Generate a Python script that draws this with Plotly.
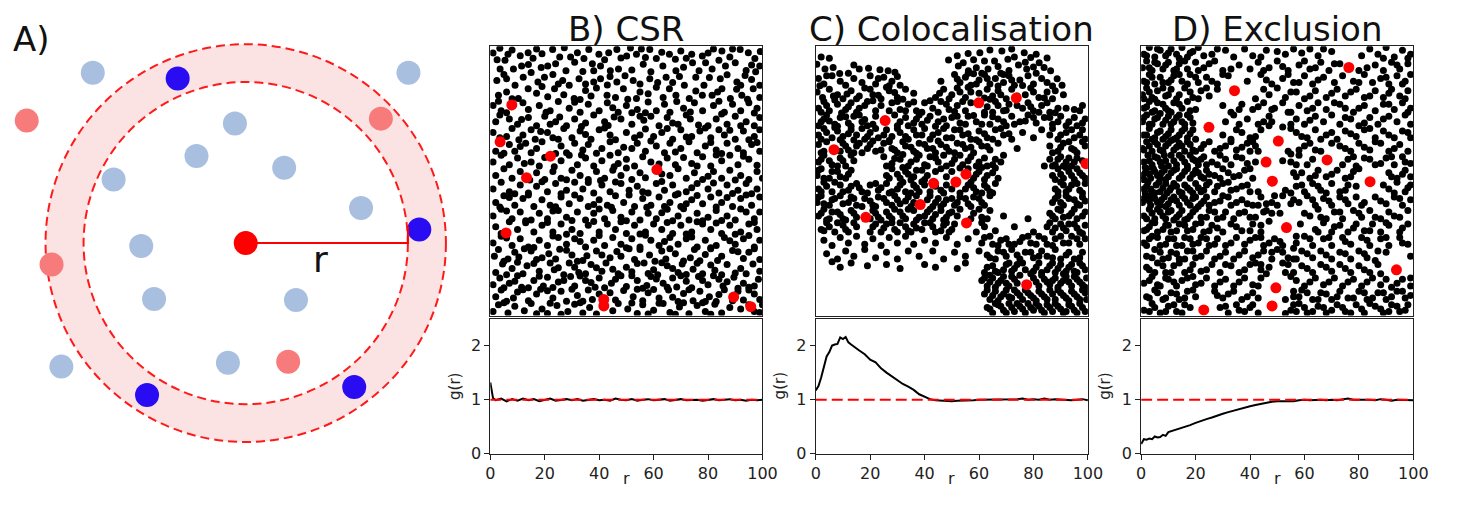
import plotly.graph_objects as go

# the page puts an 8px body margin round the plot, so the figure is drawn 16px smaller
OFF = 8
W, H = 1460 - 2 * OFF, 508 - 2 * OFF

# ---- panel A: schematic (units: outer ring radius = 10) ----
a_grey = [(-7.64, 8.57), (8.13, 8.57), (-0.54, 6.01), (-2.46, 4.38), (1.92, 3.79), (-6.60, 3.20),
          (5.76, 1.77), (-5.22, -0.15), (-4.58, -2.81), (2.51, -2.86), (-9.21, -6.21), (-0.89, -6.01)]
a_faint_red = [(-10.94, 6.16), (6.75, 6.26), (-9.70, -1.08), (2.12, -5.96)]
a_blue = [(-3.40, 8.28), (8.67, 0.69), (-4.93, -7.64), (5.42, -7.24)]
a_centre = (0.0, 0.0)
ring_outer = 10.0
ring_inner = 8.1
r_marker = [(0.0, 0.0), (8.1, 0.0), (8.1, 0.85)]

# ---- B) CSR ----
csr_black = [
    (1,97.5),(3.5,99.2),(5.4,94.8),(8,98.6),(11,96.5),(13.9,97.6),(15.7,95.5),(19,97.2),(22.9,98.8),(25.5,96),(27.2,99.4),(32,97.6),(34.4,95.4),(36.2,98.8),(39.9,97),(43.5,97.6),(46.5,98.8),(48,95.6),(50.1,96.4),(53.7,97),(55.5,99),(58.6,98.8),(61,95.4),(65.8,97),(68,95.2),(70,98.2),(74,97),(77.9,96.4),(82,99),(85.1,98.2),(88,96),(91.8,98.8),(94.8,97.6),(97.2,95.4),(99.2,98),
    (3.6,91.5),(8.5,91.5),(11.5,92.7),(14,93.2),(18.7,92.1),(21.1,92.7),(27.8,90.9),(31,94),(34,90.6),(38,90.9),(40.5,92.7),(44.1,90.9),(47.1,91.5),(52,91.2),(56.2,93.3),(59,90.5),(63.4,92.7),(68.2,90.9),(71,92.2),(74.3,93.9),(76.7,90.9),(79.1,93.9),(81.5,91.5),(86.4,92.7),(90,93.9),(94,91),(99,92.7),
    (2.4,87.3),(6,87.9),(9.1,85.5),(12.1,88.5),(17.5,86.7),(19.9,88.5),(26.6,87.3),(29,85.5),(32.6,87.9),(38,86.7),(40.5,87.9),(46.5,86.7),(52.5,87.3),(58.6,87.9),(64.6,88.5),(71.3,85.5),(75.5,88.5),(78.5,85.5),(84.5,87.9),(90.6,86.7),(93.6,89.1),(99,85.5),(23,89.5),(44,88.8),(55,86),(67,86.5),(87,89.4),(96,87.6),
    (3,81.8),(10.3,80.6),(13.9,84.2),(21.1,81.2),(23.6,84.2),(30.8,80.6),(35,83.6),(42.9,81.8),(48.9,84.2),(53.7,80.6),(55,83),(61,84.8),(65.8,84.2),(68.2,81.8),(73.1,80.6),(77.9,81.8),(81.5,81.8),(85.1,84.2),(88.2,80.6),(92.4,81.8),(96.6,84.2),(6,83),(17,82.5),(27,82),(39,84.5),(46,81),(58,82.4),(99,81),
    (1,78),(4,76),(12,79),(14,76.5),(18,78),(22,76),(25,79.5),(29,77),(33,75.5),(36,78.5),(40,76),(43,79),(47,75.5),(50,78),(54,76.5),(58,79.3),(61,76),(64,78.5),(66,75.5),(71,77),(75,79),(78,76),(82,78),(86,75.5),(89,78.5),(92,76),(95,79),(98,77),(6,75.3),(57,75.3),
    (2,72),(3.5,74.5),(10,71),(11.5,72.8),(14,73.5),(17,70.5),(20,74),(24,72),(25.5,73.7),(28,70.5),(31,73),(35,71.5),(38,74.5),(42,72),(43.3,70.6),(48,73),(52,71),(55,74),(56.4,72.5),(62,70.5),(65,73.5),(69,71),(72,74.5),(73.5,73),(80,70.5),(83,73),(87,71),(90,74),(94,72),(97,70.5),(99,73.5),
    (1,68),(6,66.5),(8,69.5),(12,67),(15,69),(16.5,65.5),(21,68),(23,66),(27,69.5),(30,66),(33,68.5),(37,65.5),(40,69),(44,67),(46,65.3),(50,68),(53,66),(57,69.3),(60,66.5),(63,68),(67,65.5),(70,69),(74,66.5),(77,68.5),(81,66),(84,69),(86,67),(90,65.5),(93,68.5),(97,66.5),(99,69),
    (2,61),(7,63.5),(9,61),(13,64),(17,62),(19,64.5),(26,63),(28,60.5),(31,64),(34,61.5),(36,63.5),(41,62),(44,64.5),(47,60.5),(49,62.5),(54,64),(57,61),(61,63),(64,60.5),(66,64),(70,62),(73,64.5),(76,60.5),(79,63),(83,61.5),(87,64),(91,62),(93,60.5),(96,63.5),(99,61),
    (1,57),(4,59.5),(7,56),(10,58.5),(15,57),(18,55.5),(26,57.5),(29,59.5),(32,56),(35,58.5),(38,55.5),(41,57.5),(44,59.5),(47,56.5),(50,58),(53,55.5),(56,59),(59,57),(65,58.5),(68,56),(71,58.7),(74,56.5),(78,59),(81,55.5),(85,57.5),(88,59.5),(91,56),(95,58),(98,55.8),
    (2,52),(5,54.5),(8,51),(17,53),(20,50.5),(23,53.5),(26,51),(30,54),(33,52),(36,50.5),(39,53.5),(42,51),(45,54),(48,52),(52,50.5),(55,53),(57,51.2),(66,52),(69,54.5),(72,51),(75,53),(78,50.5),(82,53.5),(85,51),(88,54),(92,52),(95,50.5),(98,53.5),
    (1,47),(4,49.5),(7,46),(11,48.5),(14,45.5),(17,48),(21,46),(24,49),(28,46.5),(31,49.5),(34,47),(38,45.5),(41,48.5),(44,46),(48,49),(51,46.5),(54,48),(58,45.5),(61,49),(64,46.5),(67,48.5),(72,46),(76,49),(80,47),(84,45.5),(87,48.5),(91,46.5),(94,49),(98,47),
    (2,42),(5,44.5),(9,41),(12,43.5),(16,40.5),(19,43),(22,41),(26,44),(29,41.5),(33,43.5),(36,40.5),(40,43),(43,41),(46,44.5),(49,42),(53,40.5),(56,43.5),(59,41),(62,44),(66,42),(70,40.5),(74,43),(78,41.5),(81,44),(85,42),(89,40.5),(92,43.5),(96,41),(99,44),
    (1,37),(4,39.5),(8,36),(11,38.5),(15,35.5),(18,38),(21,36),(25,39),(28,36.5),(32,38.5),(35,35.5),(38,38),(42,36),(45,39),(48,36.5),(52,38.5),(55,35.5),(58,38),(61,36),(65,39.5),(69,37),(73,35.5),(76,38),(80,36.5),(83,39),(87,37),(90,35.5),(94,38.5),(97,36),
    (2,33),(10,32),(13,34.5),(16,31),(19,33.5),(23,31),(26,34),(30,32),(33,30.5),(36,33.5),(40,31),(43,34),(46,32),(50,30.5),(53,33.5),(57,31),(60,34),(63,32),(67,30.5),(70,33.5),(74,31),(78,34),(81,32),(85,30.5),(88,33.5),(92,31),(95,34),(98,32),
    (1,27),(4,29.5),(8,26),(11,28.5),(14,25.5),(18,28),(21,26),(25,29),(28,26.5),(31,28.5),(35,25.5),(38,28),(42,26),(45,29),(48,26.5),(52,28.5),(55,25.5),(59,28),(62,26),(66,29),(69,26.5),(72,28.5),(76,25.5),(79,28),(83,26),(86,29),(90,26.5),(93,28.5),(97,25.5),(99,28),
    (1.5,22),(3,24.5),(6.5,21),(9,23.5),(10.5,21.8),(15,24),(17,20.8),(21.5,23),(24,21),(25.5,24.6),(30,22.5),(34,20.5),(35.5,22.2),(39,24),(44,21.5),(46.5,23.8),(48,22),(53,20.8),(55,24.5),(58.5,22.5),(63,24),(64.5,21),(68,23),(73.5,21.5),(75,24.5),(79,22.7),(83.5,20.5),(85,22),(89,24.2),(93,21.2),(95,23.5),(99,20.8),
    (2,16),(4.5,19.2),(8,17.5),(12,15.5),(13.5,18.5),(18,16.5),(22,19.5),(23.5,17),(27,15.2),(31,18),(32.5,16),(37,19),(41,16.5),(42.5,19.5),(47,15.5),(50,18),(52,16.3),(56.5,19.5),(60,17),(61.5,15.2),(65,18.5),(69,16),(70.5,19.2),(74.5,17.2),(78,15.5),(81,18.8),(82.5,16.8),(87,19),(90,15.8),(92,17.5),(96.5,19.2),(99,16.5),
    (1,11.5),(3.5,14),(7,12),(10,14.8),(11.5,10.5),(16,13),(19.5,11),(21,14.2),(25,12.5),(29.5,14.5),(31,11),(35,13),(38.5,10.5),(40,14),(44.5,12),(48,14.8),(50,10.8),(54,13),(57.5,11.2),(59,14.5),(63.5,12),(67,14),(68.5,10.6),(72,12.8),(76.5,14.5),(80,11.5),(84,13.5),(85.5,11),(89.5,14.2),(93,12),(95,10.5),(98.5,13.5),
    (2,7),(4,9.5),(8.5,6.5),(10,8.8),(14,5.5),(17,8),(18.5,9.8),(23,6.5),(26,9),(28,5.3),(32,7.5),(36,9.5),(37.5,6),(44,8.5),(46,5.8),(49,9.3),(52.5,7),(56,5.5),(58,8.5),(62,6.5),(65.5,9.5),(67,6.8),(71,8.2),(74.5,5.5),(77,9),(80.5,7),(83,5.2),(86,9.6),(91,9),(93,5.8),(97,8),(99,6),
    (1,1.5),(3,4),(6.5,1),(9,3.5),(12.5,1.8),(15,4.5),(19,2.5),(21,0.8),(24.5,3.8),(28.5,1.5),(31,4.2),(34,1),(36.5,3),(45,1.8),(47,4.5),(50.5,2.5),(54,0.8),(56,4),(60,2),(63.5,4.5),(66,1.2),(69.5,3.2),(73,0.7),(76,3.8),(79,1.5),(82.5,4.2),(85,1),(92,2.5),(99,1.2),(100,4),
    (2.5,95),(6.5,97),(17,99),(24,93.5),(29.5,96),(37.5,93.5),(42,95),(51.5,99.3),(57,95.8),(63,97.8),(72,95.5),(80,97.5),(84,94.8),(89,99),(96,93),
    (5,89.5),(15,90.2),(25,86),(35,86),(43,85.6),(49.5,89),(61.5,86.5),(69.5,88.8),(80.5,88.4),(92,85.5),(97.5,90.5),
    (8,80.5),(19,85),(33,80.2),(37,81.5),(50.5,80.3),(63.5,81),(75.5,83.4),(83.5,83),(90.5,84),(94.5,80.3),
    (3,79.6),(20.5,75.5),(31,79.2),(45,77.2),(52,75.3),(68.5,79.5),(73.5,75.6),(84,79.6),(97,75.2),
    (7,73),(22,71),(33.5,70.2),(45.5,73.7),(59,74),(67,71.5),(76.5,70.8),(85,74.8),(92,70.5),
    (3.5,66),(10.5,65.3),(18.5,68.3),(25,65.5),(35,67.2),(42,69.6),(55,67),(65,69.5),(72,66.3),(79,69.6),(88,68.8),(95,65.3),
    (5,60.3),(11,62.8),(15,60.5),(24,60.2),(39,60.3),(52,62),(59,64.8),(68,60.7),(81,64.3),(85,60.2),(98,64.3),
    (12.5,56.5),(20,58.7),(23.5,55.3),(33.5,59.6),(45.5,55.3),(62,56.3),(76,55.5),(83,59.6),(93,59.2),
    (11,53.5),(14.5,50.3),(28,50.4),(40.5,50.2),(50,54.8),(63,52.6),(80,51.7),(90,50.3),(100,51),
    (9,45.2),(19,49.7),(26,45.2),(36,49.4),(46,49.6),(56,46),(63,49.8),(69,45.2),(74,47.5),(82,49.2),(89,45.3),(96,45.2),
    (3.5,40.3),(7,43.8),(14,44.8),(24,40.4),(31,44.8),(38,41.2),(44.5,40.2),(51,44.8),(57.5,40.2),(64,40.5),(68,44.8),(72,41.5),(76,44.6),(83,40.3),(87,43.8),(94,44.8),
    (6,38.8),(13,35.2),(23,38.8),(30,35.3),(40,39.6),(50,35.2),(63,38.2),(67,35.2),(71,39.7),(78,35.2),(85,35.3),(92,39.6),(99,38.5),
    (4,30.5),(7,34.8),(21,34.6),(28,30.2),(38,34.9),(48,34.8),(55,30.3),(65,34.6),(72,30.3),(76,34.8),(83,34.4),(90,30.2),(97,34.6),
    (6,28.8),(16,25.3),(23,29.6),(33,27.5),(40,29.7),(50,25.2),(57,29.8),(64,27.5),(74,29.2),(81,25.2),(88,27.8),(95,29.7),
    (5,20.2),(12.5,24.8),(19,21.5),(28,24.3),(32,20.2),(41,22.5),(51,24.8),(60.5,20.2),(66,24.8),(71,20.3),(77,20.4),(81,24.8),(91,23.7),(97,24.8),
    (6,15.2),(10,19.8),(16,19.3),(25,17.8),(29,19.5),(35,15.5),(39,17.8),(45,17.2),(54,19.3),(58,15.6),(63,19.6),(67,17.5),(72,15.3),(76,19.4),(85,15.2),(94,15.5),
    (5,10.3),(9,12.8),(14,10.3),(18,14.6),(23,10.4),(27,13),(33,14.7),(37,12.3),(42,10.3),(46,13.5),(52,14.8),(56,10.2),(61,13.6),(65,10.5),(70,14.8),(74,10.3),(78,13),(82,14.8),(87,12.6),(91,10.2),(97,11),
    (6,5.3),(12,9.6),(21,9.2),(30,9.8),(34,5.3),(40,8),(54,9.8),(60,9.7),(69,5.2),(73,9.6),(79,5.2),(84,7.8),(89,5.5),(95,9.5),
    (5,4.8),(17,0.7),(22,4.6),(26,0.5),(33,4.8),(39,0.6),(52,4.7),(58,0.6),(62,4.6),(68,0.5),(71,4.8),(78,4.8),(81,0.5),(88,3),(95,4),(97,1.5),
]
csr_red = [(7.9, 78.2), (3.6, 64.5), (22.1, 59.2), (13.3, 51.2), (61.2, 54.2), (5.8, 30.7),
           (41.7, 6.0), (41.7, 3.6), (89.4, 6.9), (95.7, 3.3)]

# ---- C) Colocalisation ----
coloc_black = [
    (0.4,93.3),(3.4,91.5),(6.4,92.1),(8.8,89.9),(2,96),(5,95.5),(19.4,91.8),(23.6,91.3),(26.6,90.9),(29.1,90.3),(14,93),(48.8,94.9),(52.4,92.7),(54.2,93.9),(56.1,90.9),(60.3,97.6),(63.3,91.5),(65.7,94.5),(68.4,98.2),(70.6,95.2),(76.6,97.6),(79,95.8),(82.1,93.9),(83.9,92.1),(86.3,90.9),(58,95),(62,94.5),(67,92.5),(73,96),(74.5,93),(77.5,91.5),(81,97),(71,91),(59,92),
    (1,88),(3,86),(6,89),(9,87),(11,85.5),(14,88),(17,86.5),(20,89),(22,86),(25,88.5),(28,87),(31,85.5),(46,87),(51,89.5),(53,86.5),(55,88.5),(57,85.5),(60,87.5),(62,89.5),(64,86),(66,88),(69,86.5),(71,89),(73,85.5),(75,87.5),(78,89),(80,86),(83,88),(85,86.5),(88.7,87.9),(90.5,85.5),(67,85.2),(58,89.8),
    (0.5,83),(2.5,81),(5,84),(8,82),(10,80.5),(13,83.5),(16,81.5),(18,84.5),(21,82),(24,80.5),(27,83.5),(30,81),(33,84),(36,82.5),(44,81),(47,84),(50,82),(52,84.5),(55,81),(57,83),(63,84),(65,81.5),(67,83.5),(70,80.5),(72,84),(77,82),(79,84.5),(82,81),(85,83),(87,80.5),(91,82),(62,80.8),
    (1,77),(3,79.5),(5,76),(8,78.5),(11,76.5),(13,79),(16,77),(19,79.5),(22,76),(24,78),(28,79),(31,76.5),(34,78.5),(37,76),(40,79),(43,77),(46,79.5),(49,76.5),(52,78),(55,76),(57,79),(63,77.5),(65,75.5),(67,78),(69,76),(71,78.5),(76,77),(78,79),(80,76),(83,78),(86,75.5),(89,77),(95,76.5),(98,78),
    (2,72),(4,74.5),(7,71),(9,73.5),(12,71.5),(14,74),(17,72),(19,70.5),(22,74),(29,74.5),(31,72),(34,70.5),(37,73),(39,71),(42,74),(45,72),(48,70.5),(50,73.5),(53,71.5),(56,74),(59,72),(62,74.5),(64,71),(67,73),(70,70.5),(72,74),(75,72),(78,74.5),(81,71.5),(84,73.5),(87,71),(90,74),(93,72),(96,70.5),(99,73),
    (1,67),(3,69.5),(6,66),(8,68.5),(10,66.5),(13,69),(15,67),(18,65.5),(20,68),(23,66),(26,69),(28,66.5),(31,68),(34,65.5),(36,69),(39,67),(42,65.5),(45,68),(48,66),(51,69),(54,67),(57,65.5),(60,68.5),(63,66),(66,69),(69,67),(72,65.5),(76,68),(80,66),(83,69),(86,67),(89,65.5),(92,68),(95,66),(98,69),
    (1,63.5),(3,61),(10,64),(12,61.5),(15,63),(17,60.5),(20,63.5),(22,61),(25,64),(28,62),(30,60.5),(33,63),(36,61),(38,64),(41,62),(44,60.5),(46,63.5),(49,61),(52,64),(55,62),(58,60.5),(61,63),(64,61.5),(67,64),(74,62),(86,63),(89,61),(91,64),(94,62),(96,60.5),(99,63),
    (1,57),(3,59.5),(6,56),(9,58.5),(11,55.5),(14,57.5),(25,59),(28,56.5),(31,58),(34,55.5),(37,58),(40,56),(42,59),(45,57),(48,55.5),(51,58),(54,56),(57,59),(60,57),(63,55.5),(66,58),(69,59.5),(86,58),(88,56),(90,59),(92,57),(94,55.5),(96,58.5),(84,55.5),
    (0.5,52),(2,54.5),(5,51),(8,53.5),(11,51),(13,54),(26,52),(28,54.5),(31,51),(33,53.5),(36,51.5),(39,54),(41,52),(46,54.5),(48,51.5),(53,54.8),(58,51),(60,53.5),(62,50.5),(65,53),(67,51),(87,52),(89,54.5),(91,51),(93,53.5),(95,50.5),(97,53),(99,51),(35,50.3),
    (1,47),(3,49.5),(6,46),(9,48.5),(12,46.5),(15,49),(17,46),(20,48.5),(23,46.5),(26,49),(28,46),(31,48.5),(33,46),(36,48.5),(38,46),(40,48.5),(46,46.5),(48,48.5),(55,47),(57,49.5),(59,46),(62,48.5),(64,46),(66,49),(88,47),(90,49.5),(92,46),(94,48.5),(97,46.5),(99,49),
    (0.5,42),(2,44.5),(5,41),(7,43.5),(10,41.5),(13,44),(15,41),(18,43.5),(21,41),(23,44),(26,42),(29,44.5),(31,41.5),(34,44),(36,42),(42,44.5),(44,42),(46,40.5),(48,43),(51,41),(53,44),(56,41.5),(58,44),(61,42),(64,44.5),(87,42),(89,44.5),(91,41),(93,43.5),(96,41.5),(98,44),
    (1,37),(3,39.5),(5,36),(8,38.5),(10,36),(13,39),(15,36.5),(21,39),(23,36.5),(26,38.5),(28,36),(31,38.5),(33,36),(36,39),(38,36.5),(41,38.5),(43,36),(46,39),(48,36.5),(50,38.5),(53,39.5),(58,38),(61,36.5),(64,39),(69,37),(78,36),(86,38),(88,36),(90,39),(93,37),(95,39.5),(98,37),
    (2,32),(4,34.5),(7,31),(10,33.5),(12,31),(15,33),(21,33),(24,31),(26,34),(29,32),(31,34.5),(34,31.5),(36,34),(39,32),(42,34.5),(44,31),(47,33.5),(49,31),(51,34),(59,31),(62,33),(66,31.5),(73,33),(80,31),(85,33),(87,31),(90,34),(92,31.5),(95,34),(97,31),(99,33.5),
    (3,28),(6,26),(9,29),(12,27),(15,29.5),(18,26.5),(21,28.5),(24,26),(27,29),(30,27),(33,29.5),(36,26.5),(40,28),(44,27),(48,29),(52,26.5),(56,28.5),(61,27),(64,29.5),(67,26),(70,28.5),(73,26.5),(76,29),(79,27),(82,29.5),(85,26.5),(88,28.5),(91,27),(94,29.5),(97,26.5),(99,28.5),
    (4,23),(8,21),(11,24),(14,22),(18,24.5),(22,21.5),(26,23.5),(30,21),(34,24),(38,22),(43,24),(47,21),(51,23.5),(55,22),(60,24),(64,21.5),(67,24),(70,22),(72,24.5),(75,21),(77,23.5),(80,21.5),(83,24),(85,22),(88,24.5),(90,21),(93,23.5),(95,21),(98,23.5),
    (9,18),(13,19.5),(19,18.5),(26,19),(31,17.5),(40,19),(44,18),(52,17.5),(55,19.5),(62,16),(65,18.5),(67,16),(70,19),(72,16.5),(74,19),(77,17),(79,15.5),(81,18),(83,16),(86,18.5),(88,16),(90,19),(92,16.5),(94,19),(96,16),(98,18.5),(6,20),
    (61,13),(63,11),(65,14),(67,12),(69,14.5),(71,11),(73,13.5),(75,15),(80,14),(82,11),(84,13.5),(86,11.5),(88,14),(90,12),(92,14.5),(94,11),(96,13.5),(98,11.5),(99.5,14),(64,15),
    (62,8),(64,6),(66,9),(68,7),(70,9.5),(72,6.5),(74,8.5),(76,6),(78,8.5),(80,6.5),(82,9),(84,7),(86,9.5),(88,6),(90,8.5),(92,6.5),(94,9),(96,7),(98,9.5),(99.5,6),
    (63,3),(65,1),(67,4),(69,2),(71,4.5),(73,1.5),(75,3.5),(77,1),(79,3),(81,4.5),(83,2),(85,4),(87,1.5),(89,3.5),(91,1),(93,4),(95,2),(97,4.5),(99,1.5),
    (52,96.5),(56,97.3),(64,98.6),(72,99),(77,94),(80,92.3),(61,90),(69,89.5),(85,95.6),
    (4,89),(12,90),(16,91.5),(23,88),(27,85.3),(30,88.8),(52,87.8),(56,90),(59,86),(63,88),(68,90),(72,87.5),(76,85.4),(81,90),(87,85.2),
    (1.5,85.3),(6.5,81.5),(11.5,82.3),(15,80.5),(20,84),(23,81.8),(26,84.8),(29,82.8),(32,80.3),(45.5,82.5),(49,80.5),(53,83),(56,84.8),(60,82.5),(64,80.3),(68,82),(74,81.5),(80,83),(84,80.8),(88,83.5),
    (2,75.5),(4,78),(7,80),(9.5,75.2),(12,77.5),(15,75.5),(18,78),(21,79.8),(27,76),(30,79.5),(33,76),(36,79.3),(39,75.5),(42,79.8),(45,75.5),(48,78.5),(51,75.8),(54,79.5),(62,75.5),(66,79.5),(70,76.2),(74,78),(79,77.5),(82,75.5),(85,79),(88,75.3),(92,77),(97,76),
    (1,70.5),(3,73),(5,72.2),(8,70.3),(11,73.8),(13,70.3),(16,74.5),(18,72.8),(21,71),(30,70.5),(33,73.5),(36,71.5),(38,74.5),(41,72.5),(44,70.3),(47,73),(52,74),(55,71),(58,74.3),(61,71),(65,73.8),(69,72),(73,71),(77,72.2),(80,73.5),(86,73.5),(89,72),(92,70.5),(95,73.5),(98,71.5),
    (2,65.5),(4,68),(7,69.8),(9,65.3),(12,67.5),(14,65.2),(17,69.5),(19,66.5),(22,69.5),(25,67),(27,65),(30,69.5),(33,66.5),(37,67),(40,69.5),(43,67),(47,69.5),(50,66),(53,69),(56,67.5),(59,65.3),(62,67.5),(65,65.5),(68,69.5),(71,67.5),(87,69.5),(90,67),(94,69),(97,67),(99,65.5),
    (2,60.5),(4,64.5),(9,61),(11,63),(14,60.5),(16,64),(19,62),(21,64.8),(24,61.5),(27,64.5),(29,61.5),(32,64.5),(35,62.5),(37,60.3),(40,63.5),(43,62),(45,64.8),(48,62.5),(51,60.5),(54,63.5),(57,62.5),(60,64.5),(63,62.8),(87,60.5),(90,62.5),(93,64.5),(95,61.5),(98,64.5),
    (2,58),(5,57.5),(8,55.5),(10,57.5),(13,59.5),(26,55.5),(29,58.3),(32,59.8),(35,57),(38,59.5),(41,55.5),(44,58.5),(47,59.5),(50,56.5),(53,59.5),(56,57.5),(59,55.5),(62,58.5),(65,56),(68,57),(87,55.5),(89,58),(91,55.5),(93,58.5),(95,57),(98,57.5),
    (1,54),(3,51),(6,53.5),(9,51.5),(12,52.5),(27,51),(30,52.5),(32,55),(34,52.5),(37,54),(40,50.5),(44,53.5),(50,53.5),(56,54.5),(59,52.5),(61,55),(63,52),(66,54.8),(88,50.5),(90,52.5),(92,55),(94,52),(96,54.5),(98,52),
    (2,46),(4,48),(7,49.5),(10,46),(13,48),(16,47.5),(19,45.5),(22,49),(24,47.5),(27,45.5),(30,47),(32,49.5),(35,45.5),(37,47.5),(39,49.7),(42,46),(44,48),(47,45.5),(50,47),(53,45.5),(56,48.5),(58,47.5),(61,45.5),(63,47.5),(65,45.5),(89,46),(91,48.5),(93,47),(96,49),(98,45.5),
    (1,44),(3,41.5),(6,43),(9,44.5),(12,42),(14,43.5),(17,40.5),(20,42.5),(22,40.5),(25,43.5),(28,41),(30,43),(33,42.5),(35,40.5),(37,44.5),(41,43),(43,40.5),(45,43.5),(47,41.5),(50,43.5),(52,42),(55,43.5),(57,40.5),(60,43.5),(62,41),(88,43.5),(90,42),(92,44.5),(95,43),(97,41),(99,42.5),
    (2,38),(4,35.5),(6,38.5),(9,37.5),(11,35.5),(14,38),(20,36),(22,38),(24,35.5),(27,37),(29,39.5),(32,37),(34,39.5),(37,35.5),(40,37),(42,39.5),(44,37.5),(47,35.5),(49,38),(52,37),(57,36),(60,39.5),(63,36),(87,37),(89,39.5),(91,36.5),(94,38),(96,36),(99,38.5),
    (3,31.5),(5,33),(8,34.5),(11,32),(14,34.5),(20,31),(22,34),(25,32.5),(28,34.5),(30,31),(33,33),(35,31),(37,32.5),(40,34.5),(43,33),(46,31.5),(48,34.5),(50,32),(61,34.5),(86,34.5),(88,32.5),(91,32.5),(93,34),(96,32.5),(98,30.5),
    (62,29),(65,26.5),(68,28),(71,26.5),(75,27.5),(78,29.5),(81,26.5),(84,28.5),(87,26),(90,29.5),(93,27),(96,28.5),(63,22.5),(66,21),(69,23.5),(74,22.5),(79,23.5),(82,22),(87,21.5),(92,22.5),(97,21.5),
    (63,18),(66,16.5),(69,17),(71,19.5),(73,17.5),(76,19.5),(80,16.5),(82,19.5),(85,17),(87,19.5),(89,17.5),(91,15.5),(93,18),(95,16.5),(97,19.5),(99,17),
    (62,14),(64,12.5),(66,10.5),(68,13),(70,12),(72,14.5),(74,12),(81,12.5),(83,15),(85,12.5),(87,13),(89,10.5),(91,13),(93,12.5),(95,14.5),(97,12.5),(99,10.5),
    (63,9.5),(65,7.5),(67,5.5),(69,8),(71,7),(73,9.5),(75,7.5),(77,9.5),(79,7.5),(81,5.5),(83,8),(85,6),(87,8),(89,9.5),(91,7.5),(93,5.5),(95,8),(97,6),(99,8.5),
    (64,2.5),(66,4.5),(68,3.5),(70,1),(72,3),(74,4.5),(76,2.5),(78,4.5),(80,2),(82,3.5),(84,1),(86,3),(88,4.5),(90,2.5),(92,1.5),(94,3.5),(96,1),(98,3),
]
coloc_red = [(25.5, 72.4), (59.9, 79.0), (73.7, 80.8), (6.7, 61.6), (99.3, 56.4), (43.3, 49.1),
             (51.5, 49.6), (55.2, 52.5), (38.4, 41.2), (18.4, 36.5), (55.4, 34.4), (77.5, 11.5)]

# ---- D) Exclusion ----
excl_black = [
    (1,97),(3,99.5),(5,96),(7,98.5),(9,96.5),(11,99),(13,97),(15,99.5),(17,96),(19,98),(21,99.5),(26,97),(31,98.5),(38,99),(41,96.5),(46,98.5),(53,97),(56,99),(59,97.5),(62,99),(65,96.5),(70,98),(84,99),(87,97),(90,99.5),(93,96),(96,98.5),(99,97),
    (0.5,92),(2,94.5),(4,91),(6,93.5),(8,91.5),(10,94),(12,91),(14,93.5),(17,91.5),(20,94),(23,92),(27,94.5),(30,91),(36,93),(40,91.5),(43,94),(47,92),(50,94.5),(54,91),(58,93),(62,91.5),(66,94),(69,91),(73,93.5),(80,91),(86,93),(89,91),(92,94),(95,91.5),(98,93.5),
    (1,87),(3,89.5),(5,86),(7,88.5),(10,86.5),(12,89),(15,87),(18,89.5),(21,86.5),(24,88.5),(28,86),(32,89),(39,87),(44,89.5),(48,86),(52,88),(56,86.5),(60,89),(63,86),(67,88.5),(71,86.5),(74,89),(78,87),(82,89.5),(85,86.5),(88,88),(91,86),(94,89),(97,87),(99,89.5),
    (0.5,82),(2,84.5),(4,81),(6,83.5),(9,81.5),(11,84),(14,82),(16,84.5),(19,81),(22,83.5),(25,81.5),(28,84),(42,80.5),(47,82),(50,84.5),(53,81),(57,83),(60,80.5),(64,83.5),(68,81),(72,84),(75,81.5),(79,84),(82,81),(86,83.5),(89,81),(92,84),(95,81.5),(98,83.5),
    (1,77),(3,79.5),(5,76),(8,78.5),(10,76),(12,79),(15,77),(17,79.5),(20,76.5),(30,78),(33,75.5),(37,78.5),(41,76.5),(45,79),(49,77),(54,75.5),(58,78),(61,76),(65,79),(68,76.5),(71,79),(75,77),(78,75.5),(82,78),(86,76),(89,78.5),(93,76.5),(96,79),(99,77),
    (0.5,72),(2,74.5),(4,71),(6,73.5),(8,71),(10,74),(12,72),(14,74.5),(16,71),(18,73.5),(31,72),(34,74.5),(39,73),(43,71),(47,74),(57,73),(60,71),(64,74),(67,72),(70,74.5),(73,71),(77,73),(80,70.5),(84,73.5),(87,71),(91,74),(94,72),(97,74.5),(99,71),
    (1,67),(3,69.5),(5,66),(7,68.5),(9,66.5),(11,69),(13,66),(15,68.5),(17,66),(19,69),(30,67),(33,65.5),(37,68),(40,66),(44,69),(57,68),(61,66),(64,69),(68,67),(72,65.5),(75,68.5),(79,66.5),(82,69),(86,66),(89,68.5),(93,66),(96,68.5),(99,66),
    (0.5,62),(2,64.5),(4,61),(6,63.5),(8,61),(10,64),(12,61.5),(14,64),(16,61),(18,63.5),(20,61),(23,63.5),(27,61),(31,63),(35,61.5),(39,64),(43,61),(58,61.5),(62,64),(66,61),(73,63),(77,61),(80,64),(84,61.5),(88,64),(91,61),(95,63.5),(98,61),
    (1,57),(2.5,59.5),(4,56),(6,58.5),(7.5,55.5),(9,57.5),(11,59.5),(13,56),(15,58.5),(17,55.5),(19,58),(21,56),(23,59),(26,57),(29,59.5),(33,56),(37,58.5),(55,57),(58,59.5),(61,56),(76,58),(79,55.5),(82,58.5),(86,56),(90,58.5),(93,56),(96,59),(99,56.5),
    (0.5,52),(2,54.5),(3.5,51),(5,53.5),(7,51),(8.5,54),(10,51.5),(12,54),(14,51),(16,53.5),(18,51),(20,54),(22,51.5),(24,54),(27,52),(30,54.5),(34,51.5),(38,54),(41,51),(59,53),(62,51),(65,54),(68,51.5),(72,54),(75,51),(78,53.5),(91,53),(94,51),(97,54),(99,51.5),
    (1,47),(2.5,49.5),(4,46),(5.5,48.5),(7,46),(9,49),(10.5,46.5),(12,49),(14,46),(16,48.5),(18,46.5),(20,49),(22,46),(24,48.5),(27,46),(30,49),(33,46.5),(37,48),(40,46),(57,48),(60,46),(63,49),(66,46.5),(70,49),(73,46),(76,48.5),(91,47),(94,49.5),(97,46),(99,48.5),
    (0.5,42),(2,44.5),(3.5,41),(5,43.5),(7,41),(8.5,44),(10,41.5),(12,44),(14,41),(16,43.5),(18,41),(20,44),(22,41.5),(24,44),(27,42),(30,44.5),(33,41),(37,43),(41,41),(44,44),(48,42),(52,44.5),(58,42),(61,44.5),(64,41),(67,43.5),(70,41),(73,44),(76,41.5),(79,44),(82,42),(86,44),(90,41.5),(93,44),(96,41),(99,43),
    (1,37),(3,39.5),(5,36),(7,38.5),(9,36),(11,39),(13,36.5),(15,39),(17,36),(19,38.5),(22,36.5),(25,39),(28,36),(31,38.5),(34,36),(38,38.5),(42,36.5),(46,39),(62,37),(65,39.5),(68,36),(71,38.5),(74,36),(78,39),(81,36.5),(84,39),(88,36),(91,38.5),(95,36.5),(98,39),
    (2,32),(4,34.5),(6,31),(9,33.5),(11,31),(14,34),(17,31.5),(20,34),(23,31),(26,33.5),(30,31),(33,34),(37,31.5),(41,34),(44,31),(64,32),(67,34.5),(70,31),(73,33.5),(76,31),(79,34),(82,31.5),(85,34),(88,31),(91,33.5),(95,31),(98,34),
    (1,27),(4,29.5),(7,26),(10,28.5),(13,26),(16,29),(19,26.5),(22,29),(25,26),(28,28.5),(31,26),(35,29),(38,26.5),(42,29),(45,26),(49,28.5),(57,27),(60,29.5),(63,26),(67,28.5),(70,26),(74,29),(77,26.5),(81,29),(84,26),(88,28.5),(91,26),(95,29),(98,26.5),
    (2,22),(5,24.5),(8,21),(11,23.5),(14,21),(17,24),(20,21.5),(24,24),(27,21),(31,23.5),(34,21),(38,24),(41,21.5),(45,24),(48,21),(52,23.5),(56,21),(59,24),(63,21.5),(66,24),(70,21),(73,23.5),(77,21),(80,24),(83,21.5),(87,24),(99,22),
    (3,17),(6,19.5),(9,16),(12,18.5),(16,16),(19,19),(22,16.5),(26,19),(29,16),(33,18.5),(36,16),(40,19),(44,17),(56,16),(59,18.5),(63,16),(66,19),(70,16.5),(73,19),(77,16),(80,18.5),(84,16),(87,19),(99,14),
    (1,12),(4,14.5),(7,11),(10,13.5),(13,11),(17,14),(20,11.5),(24,14),(27,11),(31,13.5),(34,11),(38,14),(41,11.5),(57,13),(60,11),(64,14),(67,11.5),(71,14),(74,11),(78,13.5),(81,11),(85,14),(88,11.5),(92,10.5),(96,13.5),(99,11),
    (2,7),(5,9.5),(8,6),(11,8.5),(14,6),(17,9),(20,7),(27,9),(30,6.5),(34,9),(37,6),(41,8.5),(56,7),(59,9.5),(63,6),(66,8.5),(70,6),(73,9),(76,6.5),(80,9),(83,6),(87,8.5),(90,6),(94,9),(97,6.5),
    (1,2),(4,4.5),(7,1),(10,3.5),(13,1.5),(16,4),(29,3),(32,1),(35,4),(38,1.5),(41,4),(55,2),(58,4.5),(61,1),(65,3.5),(68,1),(72,4),(75,1.5),(79,4),(82,1),(86,3.5),(89,1),(92,4),(95,1.5),(98,4),
    (2,96.5),(6,99),(10,97.5),(14,95.5),(18,97.5),(23,96.5),(28,99),(34,96),(44,96),(50,98),(67,99),(81,96.5),(89,95.5),(98,95.5),
    (3,92),(5,94),(9,93),(13,91.5),(16,94.5),(21,91),(25,93.5),(33,91.5),(45,91),(52,92.5),(60,94.5),(64,92),(71,93.5),(83,92),(94,93),
    (2,86.5),(4,88.5),(8,86.5),(11,87.5),(14,89.5),(17,86),(20,88.5),(26,87),(30,89.5),(46,87.5),(54,89.5),(58,86.5),(65,87.5),(80,86.5),(90,88.5),(96,86),
    (1,80.5),(3,83),(5,80.3),(8,84.5),(10,82),(13,80.5),(18,83),(21,80.5),(24,84.5),(45,84),(55,83),(62,81.5),(70,82.5),(77,83),(84,81.5),(91,82.5),(97,80.5),
    (2,77.5),(4,75.5),(6,79),(9,77),(11,75.5),(14,78.5),(18,76),(36,76.5),(43,77.5),(52,79),(63,77),(73,78.5),(80,77),(91,78.5),(98,75.5),(55,75.5),(48,76.5),
    (1,73.5),(3,71),(5,73),(7,75),(9,72.5),(11,71),(13,73.5),(15,72),(17,74.5),(19,71.5),(36,71),(45,72),(55,71),(62,72.5),(75,73.5),(82,71.5),(89,73),(52,70),(48,72),(47,70.5),
    (2,67),(4,65.5),(6,68),(8,65.5),(10,67.5),(12,65.5),(14,67),(16,69.5),(18,67.5),(20,65.5),(35,69),(42,66.5),(55,69.5),(59,66.5),(66,65.5),(70,68),(77,67.5),(84,69.5),(91,67),(98,68),
    (1,61.5),(3,63),(5,64.5),(7,61.5),(9,63),(11,65),(13,62.5),(15,63),(17,64.5),(19,61.5),(22,62),(25,64.5),(29,62),(33,64.5),(37,62.5),(41,64.5),(60,63),(64,61.5),(70,64),(75,62),(82,62.5),(86,64.5),(93,62),(54,61),(42,63),(55,60),(40,61),
    (1.5,55),(3,57.5),(5,59),(7,57),(8.5,59.5),(10,55.5),(12,57.5),(14,59.5),(16,57),(18,59.5),(20,57.5),(22,58),(24,56),(28,56),(31,58),(35,59),(39,56.5),(57,56),(63,58),(74,56),(78,59),(84,58),(88,56.5),(92,59),(97,57),(52,57.5),(42,57),
    (1,50.5),(1.5,53),(3,52.5),(4.5,54.5),(6,52),(7.5,53),(9,50.5),(11,53),(13,54.5),(15,52),(17,54.5),(19,52.5),(21,53),(23,51),(25,52.5),(29,51),(32,53),(36,52),(40,54.5),(57,51.5),(64,52),(70,52.5),(77,51.5),(80,54.5),(92,51.5),(96,52.5),(56,53),
    (1.5,45.5),(2,48),(3.5,47),(5,45.5),(6.5,49.5),(8,47.5),(9.5,45.5),(11,47.5),(13,48),(15,45.5),(17,47.5),(19,45.5),(21,47.5),(23,46.5),(25,49.5),(28,48),(32,49.5),(35,47),(39,48.5),(43,46),(55,45.5),(59,48.5),(65,48),(68,45.5),(75,46.5),(79,48),(89,48.5),(93,45.5),(98,47.5),(49,44.5),(53,46.5),
    (1,43.5),(3,42.5),(4,44),(6,42),(7.5,43),(9,40.5),(11,43),(13,42.5),(15,44.5),(17,42),(19,43.5),(21,40.5),(23,42.5),(25,41),(29,42.5),(32,44),(35,42),(39,41.5),(46,41.5),(50,41),(55,41.5),(63,43),(69,42.5),(75,43),(81,41),(88,42.5),(95,43.5),(43,41),(56,43),
    (2,36),(4,38),(6,39.5),(8,37),(10,38.5),(12,35.5),(14,37.5),(16,35.5),(18,37),(20,39.5),(24,36.5),(27,38.5),(30,36.5),(36,38),(40,36.5),(48,38),(60,38),(66,36.5),(73,38.5),(80,38),(86,36.5),(93,37),(47,35),(45,38.5),(51,38),
    (1,31.5),(3,33),(5,34.5),(8,32),(10,33.5),(13,31.5),(16,33.5),(19,32),(22,34.5),(25,31.5),(28,32.5),(35,33),(40,31.5),(65,31),(71,33),(78,32.5),(84,31.5),(90,34.5),(96,32.5),(58.5,34),(44,33.5),
    (2,26),(3,28.5),(6,29),(9,26.5),(12,28.5),(15,26),(18,28.5),(21,27),(24,28.5),(27,26.5),(33,27),(40,28),(47,27),(52,26),(57,29.5),(62,28.5),(69,29),(75,27.5),(83,28),(90,29),(96,27),(44,29),(51,27.5),(56,25),
    (4,21.5),(7,23.5),(10,21.5),(13,23),(16,21),(19,24),(22,22),(29,22),(36,22.5),(43,22.5),(50,24.5),(54,21.5),(61,23),(68,22.5),(75,23),(82,23),(86,20.5),(90,23.5),(48,23.5),(57,21),
    (2,18),(5,16),(8,18.5),(11,16),(14,19.5),(18,17),(24,17),(31,19),(38,17),(42,19.5),(54,19),(61,17.5),(68,18),(75,17.5),(82,17),(88,15.5),(47,18),(53,16),(44,19),(52,19.5),(46,15.5),
    (3,13),(6,11.5),(9,14),(12,12.5),(15,13),(19,14.5),(22,12),(29,12.5),(36,12.5),(55,14.5),(62,12.5),(69,12.5),(76,12.5),(83,12.5),(90,13.5),(94,12),(44,14),(43,11),
    (3,6.5),(6,8.5),(9,6.5),(13,8),(16,6.5),(19,9.5),(28,7.5),(32,8),(39,7),(43,6.5),(56,9),(58,7),(61,8.5),(65,6),(68,8),(72,7),(78,6.5),(82,8.5),(85,6.5),(89,8.5),(92,7),(96,9),(99,7.5),(53,6),
    (3,1.5),(5,3),(9,1.5),(12,4),(15,1),(18,3),(31,3.5),(36,2),(40,3),(43,1),(57,1.5),(60,3),(63,1.5),(67,3),(70,2),(74,3),(77,1),(81,2.5),(84,4.5),(88,2.5),(91,1.5),(94,3.5),(97,2),(56,4),(53,0.8),
]
excl_red = [(76.3, 92.1), (34.3, 83.5), (24.9, 69.9), (50.4, 64.8), (45.9, 57.0), (68.3, 57.8),
            (48.2, 49.9), (84.1, 49.7), (53.4, 32.7), (93.8, 17.0), (49.5, 10.3), (48.1, 3.6), (23.0, 2.1)]

# ---- g(r) curves ----
r_csr = [0, 1, 2, 4, 6, 8, 10, 12, 14, 16, 18, 20, 22, 24, 26, 28, 30, 32, 34, 36, 38, 40, 42, 44, 46, 48,
         50, 52, 54, 56, 58, 60, 62, 64, 66, 68, 70, 72, 74, 76, 78, 80, 82, 84, 86, 88, 90, 92, 94, 96, 98, 100]
g_csr = [1.32, 1.03, 0.99, 1.02, 0.97, 1.01, 0.98, 1.02, 0.99, 1.01, 0.97, 1.0, 1.02, 0.98, 1.0, 1.01, 0.99,
         1.01, 0.98, 1.0, 1.01, 0.99, 1.0, 0.98, 1.02, 1.0, 0.99, 1.01, 0.98, 1.0, 1.01, 0.99, 1.0, 1.01, 0.98,
         1.0, 1.01, 0.99, 1.0, 1.0, 0.98, 1.0, 1.01, 0.99, 1.0, 1.01, 0.99, 1.0, 0.98, 1.0, 0.99, 1.0]

r_coloc = [0, 1, 2, 3, 4, 5, 6, 7, 8, 9, 10, 11, 12, 13, 14, 16, 18, 20, 22, 24, 26, 28, 30, 32, 34, 36, 38,
           40, 42, 44, 46, 48, 50, 52, 54, 56, 58, 60, 62, 64, 66, 68, 70, 72, 74, 76, 78, 80, 82, 84, 86, 88,
           90, 92, 94, 96, 98, 100]
g_coloc = [1.17, 1.25, 1.41, 1.62, 1.8, 1.88, 2.0, 2.02, 2.03, 2.15, 2.12, 2.16, 2.06, 2.02, 1.98, 1.91,
           1.84, 1.74, 1.69, 1.58, 1.5, 1.43, 1.36, 1.29, 1.24, 1.18, 1.1, 1.06, 1.01, 0.99, 0.98, 0.98, 0.97,
           0.98, 0.98, 0.99, 0.99, 1.0, 1.0, 1.01, 1.0, 1.01, 1.0, 1.0, 1.01, 1.02, 1.0, 1.01, 1.0, 1.02, 1.0,
           1.01, 1.0, 1.0, 0.99, 1.0, 1.01, 0.99]

r_excl = [0, 1, 2, 3, 4, 5, 6, 7, 8, 9, 10, 12, 14, 16, 18, 20, 22, 24, 26, 28, 30, 32, 34, 36, 38, 40, 42,
          44, 46, 48, 50, 52, 54, 56, 58, 60, 62, 64, 66, 68, 70, 72, 74, 76, 78, 80, 82, 84, 86, 88, 90, 92,
          94, 96, 98, 100]
g_excl = [0.18, 0.27, 0.26, 0.28, 0.27, 0.32, 0.3, 0.31, 0.35, 0.33, 0.4, 0.43, 0.46, 0.5, 0.53, 0.57,
          0.61, 0.64, 0.67, 0.71, 0.74, 0.77, 0.8, 0.83, 0.86, 0.88, 0.9, 0.92, 0.95, 0.96, 0.97, 0.97, 0.98,
          0.97, 0.99, 1.0, 0.99, 1.0, 1.0, 0.99, 1.0, 0.99, 1.0, 1.02, 1.0, 1.0, 1.01, 1.0, 0.99, 1.01, 1.0,
          0.98, 1.0, 1.0, 1.0, 0.99]
baseline = 1.0

titles = ["B) CSR", "C) Colocalisation", "D) Exclusion"]
x_ticks = [0, 20, 40, 60, 80, 100]
y_ticks = [0, 1, 2]

FONT = "DejaVu Sans, Liberation Sans, sans-serif"


# page pixel -> paper fraction
def px(x):
    return (x - OFF) / W


def py(y):
    return 1 - (y - OFF) / H


def pts(lst):
    return [p[0] for p in lst], [p[1] for p in lst]


fig = go.Figure()

# panel A
for lst, col in [(a_grey, "#a8bfdf"), (a_faint_red, "#f87b7b"), (a_blue, "#2a0cf2")]:
    xs, ys = pts(lst)
    fig.add_trace(go.Scatter(x=xs, y=ys, mode="markers", xaxis="x", yaxis="y",
                             marker=dict(size=24, color=col, line=dict(width=0))))
fig.add_trace(go.Scatter(x=[p[0] for p in r_marker], y=[p[1] for p in r_marker], mode="lines",
                         xaxis="x", yaxis="y", line=dict(color="#ff0000", width=2)))
fig.add_trace(go.Scatter(x=[a_centre[0]], y=[a_centre[1]], mode="markers", xaxis="x", yaxis="y",
                         marker=dict(size=24, color="#ff0000", line=dict(width=0))))

shapes = []
shapes.append(dict(type="circle", xref="x", yref="y", x0=-ring_outer, x1=ring_outer, y0=-ring_outer,
                   y1=ring_outer, fillcolor="#fbe3e3", line=dict(width=0), layer="below"))
shapes.append(dict(type="circle", xref="x", yref="y", x0=-ring_inner, x1=ring_inner, y0=-ring_inner,
                   y1=ring_inner, fillcolor="white", line=dict(width=0), layer="below"))
for rad in (ring_outer, ring_inner):
    shapes.append(dict(type="circle", xref="x", yref="y", x0=-rad, x1=rad, y0=-rad, y1=rad,
                       line=dict(color="#ff1a1a", width=2, dash="9px,5px"), layer="below"))

# A axis: 20.3 px per unit, ring centre at page pixel (244, 248)
layout_axes = {}
layout_axes["xaxis"] = dict(domain=[0, px(480)], range=[(OFF - 244) / 20.3, (480 - 244) / 20.3],
                            visible=False)
layout_axes["yaxis"] = dict(domain=[0, 1], range=[(248 - (508 - OFF)) / 20.3, (248 - OFF) / 20.3],
                            visible=False, anchor="x")

panels = [
    (csr_black, csr_red, r_csr, g_csr, 492),
    (coloc_black, coloc_red, r_coloc, g_coloc, 822),
    (excl_black, excl_red, r_excl, g_excl, 1152),
]
annotations = []
frame = dict(showline=True, mirror=True, linecolor="#222", linewidth=1, showgrid=False, zeroline=False)
tick = dict(ticks="outside", ticklen=5, tickwidth=1, tickcolor="#222",
            tickfont=dict(size=16, color="#222", family=FONT))
for i, (blk, red, rr, gg, left) in enumerate(panels):
    sx, sy = "x%d" % (2 + i), "y%d" % (2 + i)
    gx, gy = "x%d" % (5 + i), "y%d" % (5 + i)
    dom = [px(left), px(left + 276)]
    xs, ys = pts(blk)
    fig.add_trace(go.Scatter(x=xs, y=ys, mode="markers", xaxis=sx, yaxis=sy,
                             marker=dict(size=7, color="black", line=dict(width=0))))
    xs, ys = pts(red)
    fig.add_trace(go.Scatter(x=xs, y=ys, mode="markers", xaxis=sx, yaxis=sy,
                             marker=dict(size=11, color="#ff0000", line=dict(width=0))))
    fig.add_trace(go.Scatter(x=rr, y=gg, mode="lines", xaxis=gx, yaxis=gy,
                             line=dict(color="black", width=2)))
    fig.add_trace(go.Scatter(x=[0, 100], y=[baseline, baseline], mode="lines", xaxis=gx, yaxis=gy,
                             line=dict(color="#ff0000", width=2, dash="11px,5px")))
    layout_axes["xaxis%d" % (2 + i)] = dict(domain=dom, range=[0, 100], anchor=sy, showticklabels=False,
                                           ticks="", **frame)
    layout_axes["yaxis%d" % (2 + i)] = dict(domain=[py(322), py(47)], range=[0, 100], anchor=sx,
                                           showticklabels=False, ticks="", **frame)
    layout_axes["xaxis%d" % (5 + i)] = dict(domain=dom, range=[0, 100], anchor=gy, tickvals=x_ticks,
                                           **tick, **frame)
    layout_axes["yaxis%d" % (5 + i)] = dict(domain=[py(463), py(325)], range=[0, 2.5], anchor=gx,
                                           tickvals=y_ticks, **tick, **frame)
    cx = left + 138
    # title box starts at the top edge of the figure, text centred in it
    annotations.append(dict(text=titles[i], x=px(cx), y=1, xref="paper", yref="paper", height=37,
                            showarrow=False, xanchor="center", yanchor="top", valign="middle",
                            font=dict(size=34, color="#111", family=FONT)))
    annotations.append(dict(text="g(r)", x=px(left - 36), y=py(394), xref="paper", yref="paper",
                            showarrow=False, textangle=-90, xanchor="center", yanchor="middle",
                            font=dict(size=15, color="#222", family=FONT)))
    annotations.append(dict(text="r", x=px(cx), y=0, xref="paper", yref="paper",
                            showarrow=False, xanchor="center", yanchor="bottom",
                            font=dict(size=16, color="#222", family=FONT)))

annotations.append(dict(text="A)", x=px(6), y=py(40), xref="paper", yref="paper", showarrow=False,
                        xanchor="left", yanchor="middle", font=dict(size=34, color="#111", family=FONT)))
annotations.append(dict(text="r", x=3.74, y=-0.84, xref="x", yref="y", showarrow=False,
                        xanchor="center", yanchor="middle", font=dict(size=36, color="#111", family=FONT)))

fig.update_layout(
    width=W, height=H, margin=dict(l=0, r=0, t=0, b=0),
    paper_bgcolor="white", plot_bgcolor="white", showlegend=False,
    font=dict(family=FONT, color="#222"),
    shapes=shapes, annotations=annotations, **layout_axes,
)

fig.write_html("out.html")
